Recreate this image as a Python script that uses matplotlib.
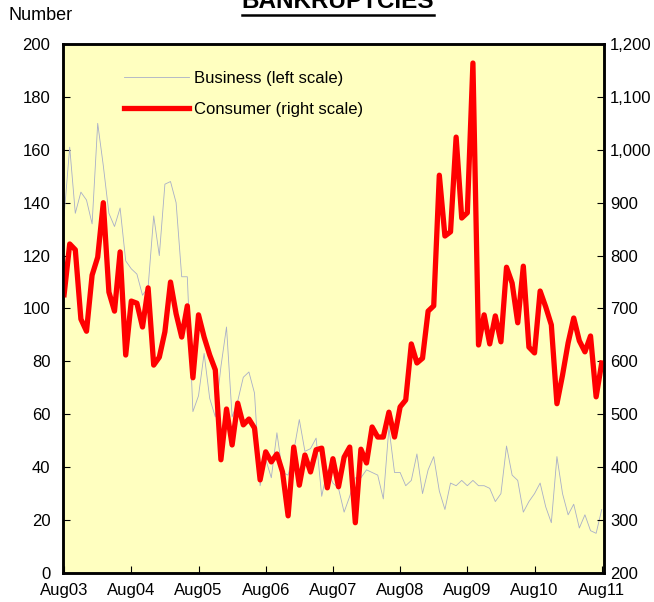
import numpy as np
import matplotlib
matplotlib.use('Agg')
import matplotlib.pyplot as plt
from matplotlib.lines import Line2D
from matplotlib.ticker import FuncFormatter

plt.rcParams['font.family'] = ['Liberation Sans', 'DejaVu Sans']

# monthly data, Aug 2003 .. Aug 2011
tick_labels = ['Aug03', 'Aug04', 'Aug05', 'Aug06', 'Aug07', 'Aug08', 'Aug09', 'Aug10', 'Aug11']

business = [135, 161, 136, 144, 141, 132, 170, 154, 136, 131,
            138, 118, 115, 113, 105, 108, 135, 120, 147, 148,
            140, 112, 112, 61, 67, 83, 66, 59, 78, 93,
            59, 65, 74, 76, 68, 33, 43, 36, 53, 38,
            37, 46, 58, 46, 47, 51, 29, 39, 34, 32,
            23, 29, 36, 36, 39, 38, 37, 28, 55, 38,
            38, 33, 35, 45, 30, 39, 44, 31, 24, 34,
            33, 35, 33, 35, 33, 33, 32, 27, 30, 48,
            37, 35, 23, 27, 30, 34, 25, 19, 44, 30,
            22, 26, 17, 22, 16, 15, 24]

consumer = [726, 822, 811, 680, 657, 763, 797, 900, 731, 695,
            807, 612, 714, 710, 665, 739, 593, 608, 656, 750,
            690, 646, 705, 569, 688, 646, 612, 584, 414, 510,
            442, 521, 480, 491, 474, 376, 429, 410, 425, 391,
            308, 438, 366, 423, 391, 433, 436, 361, 416, 363,
            419, 438, 295, 434, 408, 476, 457, 457, 504, 457,
            514, 527, 633, 597, 606, 695, 705, 952, 837, 845,
            1024, 871, 881, 1164, 631, 688, 633, 686, 637, 778,
            748, 673, 780, 627, 616, 733, 703, 669, 520, 574,
            635, 682, 639, 618, 648, 533, 597]

months = np.arange(len(consumer))

fig = plt.figure(figsize=(6.54, 6.02), dpi=100)
ax = fig.add_axes([0.0963, 0.0482, 0.8272, 0.8787])
ax.set_facecolor('#FFFFC0')
ax2 = ax.twinx()
ax2.set_facecolor('none')

l1, = ax.plot(months, business, color='#A8AEC8', linewidth=0.6)
l2, = ax2.plot(months, consumer, color='#FF0000', linewidth=3.8,
               solid_joinstyle='round')

ax.set_xlim(-0.2, 96.4)
ax.set_ylim(0, 200)
ax.set_yticks(np.arange(0, 201, 20))
ax2.set_ylim(200, 1200)
ax2.set_yticks(np.arange(200, 1201, 100))
ax2.yaxis.set_major_formatter(FuncFormatter(lambda v, p: f'{int(v):,}'))
ax.set_xticks(np.arange(0, 97, 12))
ax.set_xticklabels(tick_labels)

for a in (ax, ax2):
    a.tick_params(direction='in', length=5, width=0.8, labelsize=12)
    for s in a.spines.values():
        s.set_linewidth(1.8)
        s.set_color('black')
ax.tick_params(axis='y', pad=9)
ax.tick_params(axis='x', pad=7.5)
ax2.tick_params(axis='y', pad=4.5)

ax2.legend([l1, l2], ['Business (left scale)', 'Consumer (right scale)'],
           loc='upper left', bbox_to_anchor=(0.085, 0.977), frameon=False,
           fontsize=12, handlelength=3.9, labelspacing=0.95, handletextpad=0.3)

fig.text(8 / 654, 1 - 15 / 602, 'Number', fontsize=13, va='center', ha='left')

title = fig.text(0.517, 1 - 8 / 602, 'BANKRUPTCIES', fontsize=17.5,
                 fontweight='bold', ha='center', va='baseline')
fig.canvas.draw()
bb = title.get_window_extent()
fig.add_artist(Line2D([bb.x0, bb.x1], [bb.y0 - 1.5, bb.y0 - 1.5], transform=None,
                      color='black', linewidth=1.8))

plt.savefig('out.png', dpi=100)
